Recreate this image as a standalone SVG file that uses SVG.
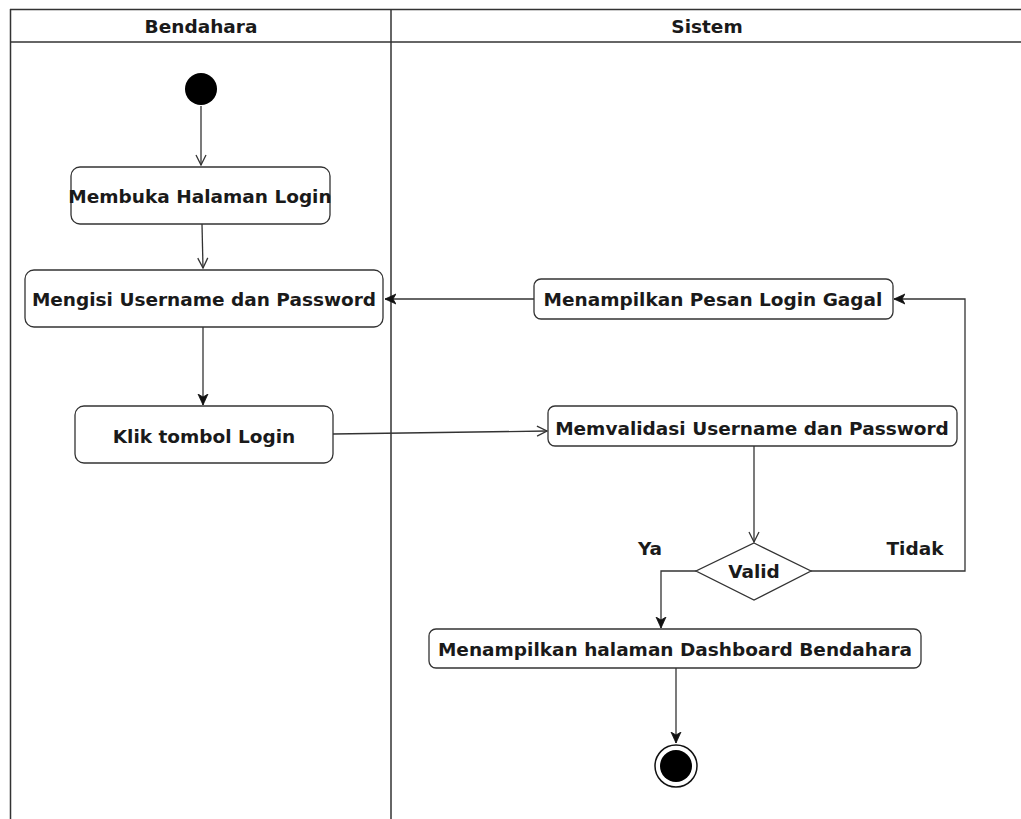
<svg xmlns="http://www.w3.org/2000/svg" width="1021" height="819" viewBox="0 0 1021 819">
<style>
.lane{fill:none;stroke:#333;stroke-width:1.5}
.act{fill:#fff;stroke:#333;stroke-width:1.3}
.t{font-family:"DejaVu Sans",Verdana,sans-serif;font-weight:bold;font-size:18.5px;fill:#1a1a1a;text-anchor:middle;dominant-baseline:central}
.c{fill:none;stroke:#333;stroke-width:1.3}
</style>
<defs>
<marker id="open" viewBox="0 0 12 12" refX="11" refY="6" markerWidth="12" markerHeight="12" markerUnits="userSpaceOnUse" orient="auto">
<path d="M1,1 L11,6 L1,11" fill="none" stroke="#333" stroke-width="1.3"/>
</marker>
<marker id="fill" viewBox="0 0 12 12" refX="11" refY="6" markerWidth="12" markerHeight="12" markerUnits="userSpaceOnUse" orient="auto">
<path d="M0,1 L11,6 L0,11 L3,6 Z" fill="#111" stroke="#111" stroke-width="0.8"/>
</marker>
</defs>
<rect width="1021" height="819" fill="#fff"/>
<g id="lanes">
<line class="lane" x1="10" y1="9.5" x2="1021" y2="9.5"/>
<line class="lane" x1="10" y1="42" x2="1021" y2="42"/>
<line class="lane" x1="10.5" y1="9" x2="10.5" y2="819" stroke="#666" stroke-width="2"/>
<line class="lane" x1="391" y1="9" x2="391" y2="819"/>
<text class="t" x="201" y="26">Bendahara</text>
<text class="t" x="707" y="26">Sistem</text>
</g>
<g id="connectors">
<line class="c" x1="201" y1="106" x2="201" y2="165" marker-end="url(#open)"/>
<line class="c" x1="202" y1="224" x2="203" y2="268" marker-end="url(#open)"/>
<line class="c" x1="203" y1="327" x2="203" y2="405" marker-end="url(#fill)"/>
<line class="c" x1="333" y1="434" x2="547" y2="431" marker-end="url(#open)"/>
<line class="c" x1="534" y1="299" x2="385" y2="299" marker-end="url(#fill)"/>
<line class="c" x1="754" y1="446" x2="754" y2="542" marker-end="url(#open)"/>
<polyline class="c" points="811,571 965,571 965,299 894,299" marker-end="url(#fill)"/>
<polyline class="c" points="696,571 661,571 661,628" marker-end="url(#fill)"/>
<line class="c" x1="676" y1="668" x2="676" y2="743" marker-end="url(#fill)"/>
<text class="t" x="650" y="548">Ya</text>
<text class="t" x="915" y="548">Tidak</text>
</g>
<g id="start"><circle cx="201" cy="89" r="16" fill="#000"/></g>
<g id="membuka"><rect class="act" x="71" y="167" width="259" height="57" rx="9"/><text class="t" x="200" y="196">Membuka Halaman Login</text></g>
<g id="mengisi"><rect class="act" x="25" y="270" width="358" height="57" rx="9"/><text class="t" x="204" y="299">Mengisi Username dan Password</text></g>
<g id="klik"><rect class="act" x="75" y="406" width="258" height="57" rx="9"/><text class="t" x="204" y="436">Klik tombol Login</text></g>
<g id="gagal"><rect class="act" x="534" y="279" width="359" height="40" rx="7"/><text class="t" x="713" y="299">Menampilkan Pesan Login Gagal</text></g>
<g id="validasi"><rect class="act" x="548" y="406" width="409" height="40" rx="7"/><text class="t" x="752" y="428">Memvalidasi Username dan Password</text></g>
<g id="valid"><polygon class="act" points="754,543 811,571 754,600 696,571"/><text class="t" x="754" y="571">Valid</text></g>
<g id="dashboard"><rect class="act" x="429" y="629" width="492" height="39" rx="7"/><text class="t" x="675" y="649">Menampilkan halaman Dashboard Bendahara</text></g>
<g id="end"><circle cx="676" cy="766" r="21" fill="#fff" stroke="#111" stroke-width="1.5"/><circle cx="676" cy="766" r="16" fill="#000"/></g>
</svg>
